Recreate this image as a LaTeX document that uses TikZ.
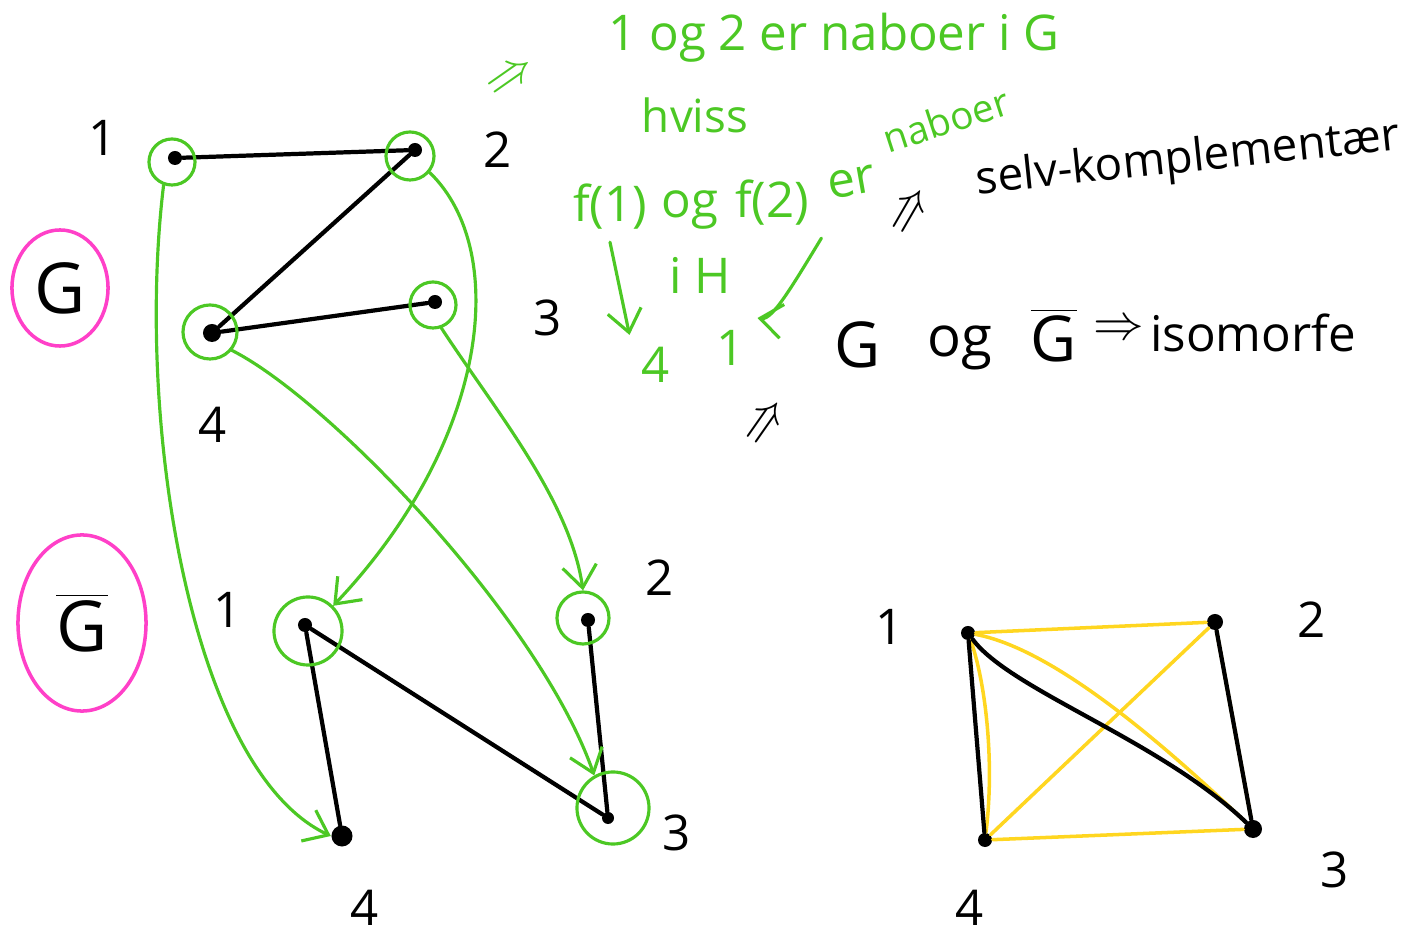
\documentclass[tikz,border=0pt]{standalone}
\usepackage{fontspec}
\setmainfont{Open Sans}
\usetikzlibrary{
  arrows.meta,
  positioning,
  shapes.geometric,
}
\definecolor{penGreen}{RGB}{76,200,36}
\definecolor{penPink}{RGB}{255,64,200}
\definecolor{penYellow}{RGB}{255,214,32}
\tikzset{
  vdot/.style={circle, fill=black, inner sep=0pt, minimum size=#1},
  vdot/.default=1.4mm,
  vring/.style={circle, draw=penGreen, line width=0.9pt, inner sep=0pt, minimum size=#1},
  vlabel/.style={font=\fontsize{14}{16}\selectfont},
  gname/.style={ellipse, draw=penPink, line width=1pt, inner sep=0pt,
    font=\fontsize{20}{24}\selectfont},
  blackedge/.style={line width=1.2pt, black, line cap=round},
  yellowedge/.style={line width=1pt, penYellow, line cap=round},
  maparrow/.style={line width=0.9pt, penGreen, line cap=round,
    -{Straight Barb[length=2.2mm,width=3.4mm]}},
  greennote/.style={text=penGreen, font=\fontsize{14}{16}\selectfont},
  blacknote/.style={font=\fontsize{14}{16}\selectfont},
}

\begin{document}
\begin{tikzpicture}[x=0.01cm, y=-0.01cm]
  \useasboundingbox (0,0) rectangle (1405,937);

  % ── Graph G ──
  \node[vdot]        (G1) at (175,158) {};
  \node[vdot]        (G2) at (415,150) {};
  \node[vdot]        (G3) at (435,302) {};
  \node[vdot=1.8mm]  (G4) at (212,333) {};
  \draw[blackedge] (G1) -- (G2);
  \draw[blackedge] (G2) -- (G4);
  \draw[blackedge] (G4) -- (G3);

  \node[vlabel] at (103,138) {1};
  \node[vlabel] at (498,150) {2};
  \node[vlabel] at (548,318) {3};
  \node[vlabel] at (213,425) {4};

  \node[vring=0.46cm] (cG1) at (172,162) {};
  \node[vring=0.48cm] (cG2) at (410,156) {};
  \node[vring=0.46cm] (cG3) at (433,305) {};
  \node[vring=0.54cm] (cG4) at (210,332) {};

  \node[gname, minimum width=0.96cm, minimum height=1.16cm] (nameG) at (60,288) {G};

  % ── Complement graph ──
  \node[vdot]        (H1) at (305,625) {};
  \node[vdot]        (H2) at (588,620) {};
  \node[vdot=1.2mm]  (H3) at (608,818) {};
  \node[vdot=2.1mm]  (H4) at (342,836) {};
  \draw[blackedge] (H1) -- (H4);
  \draw[blackedge] (H1) -- (H3);
  \draw[blackedge] (H2) -- (H3);

  \node[vlabel] at (228,610) {1};
  \node[vlabel] at (660,578) {2};
  \node[vlabel] at (677,833) {3};
  \node[vlabel] at (365,908) {4};

  \node[vring=0.68cm] (cH1) at (308,631) {};
  \node[vring=0.52cm] (cH2) at (583,618) {};
  \node[vring=0.72cm] (cH3) at (613,808) {};

  \node[gname, minimum width=1.28cm, minimum height=1.76cm] (nameGbar) at (82,623)
    {$\overline{\hbox{G}}$};

  % ── Map f ──
  \draw[maparrow] (cG1.250) .. controls (135,420) and (190,770) .. (H4.west);
  \draw[maparrow] (cG2.320) .. controls (510,250) and (490,440) .. (cH1.45);
  \draw[maparrow] (cG3.290) .. controls (495,410) and (570,500) .. (cH2.north);
  \draw[maparrow] (cG4.320) .. controls (330,400) and (540,620) .. (cH3.120);

  % ── Notes ──
  \node[greennote, rotate=35] (impC) at (512,78) {$\Rightarrow$};
  \node[greennote] (edgeNote) at (834,38) {1 og 2 er naboer i G};
  \node[greennote, font=\fontsize{13}{15}\selectfont] (iffNote) at (695,115) {hviss};
  \node[greennote] (f1) at (610,207) {f(1)};
  \node[greennote] (ogNote) at (690,210) {og};
  \node[greennote] (f2) at (772,203) {f(2)};
  \node[greennote, rotate=10] at (852,182) {er};
  \node[greennote, font=\fontsize{11}{13}\selectfont, rotate=18] at (946,120) {naboer};
  \node[greennote] at (700,275) {i H};
  \node[greennote] (fourNote) at (656,365) {4};
  \node[greennote] (oneNote) at (731,348) {1};
  \draw[maparrow] (f1.south) -- (fourNote.north west);
  \draw[maparrow] (f2.south east) .. controls (790,290) and (772,320) .. (oneNote.north east);

  \node[blacknote, rotate=60] (impA) at (912,212) {$\Rightarrow$};
  \node[blacknote, font=\fontsize{13}{15}\selectfont, rotate=6] (selfNote) at (1188,160)
    {selv-komplementær};
  \node[blacknote, rotate=55] (impB) at (767,423) {$\Rightarrow$};

  \node[blacknote, font=\fontsize{18}{22}\selectfont] at (858,345) {G};
  \node[blacknote, font=\fontsize{16}{20}\selectfont] at (960,348) {og};
  \node[blacknote, font=\fontsize{18}{22}\selectfont] at (1054,335) {$\overline{\hbox{G}}$};
  \node[blacknote] at (1119,330) {$\Rightarrow$};
  \node[blacknote] at (1253,333) {isomorfe};

  % ── Complete graph ──
  \node[vdot]        (K1) at (968,633) {};
  \node[vdot=1.6mm]  (K2) at (1215,622) {};
  \node[vdot=1.8mm]  (K3) at (1253,829) {};
  \node[vdot]        (K4) at (985,840) {};
  \draw[yellowedge] (K1) -- (K2);
  \draw[yellowedge] (K2) -- (K3);
  \draw[yellowedge] (K3) -- (K4);
  \draw[yellowedge] (K4) .. controls (995,760) and (985,680) .. (K1);
  \draw[yellowedge] (K1) .. controls (1060,650) and (1180,760) .. (K3);
  \draw[yellowedge] (K2) -- (K4);
  \draw[blackedge] (K1) -- (K4);
  \draw[blackedge] (K1) .. controls (1010,690) and (1160,740) .. (K3);
  \draw[blackedge] (K2) -- (K3);

  \node[vlabel] at (890,627) {1};
  \node[vlabel] at (1312,620) {2};
  \node[vlabel] at (1335,870) {3};
  \node[vlabel] at (970,908) {4};

\end{tikzpicture}
\end{document}
